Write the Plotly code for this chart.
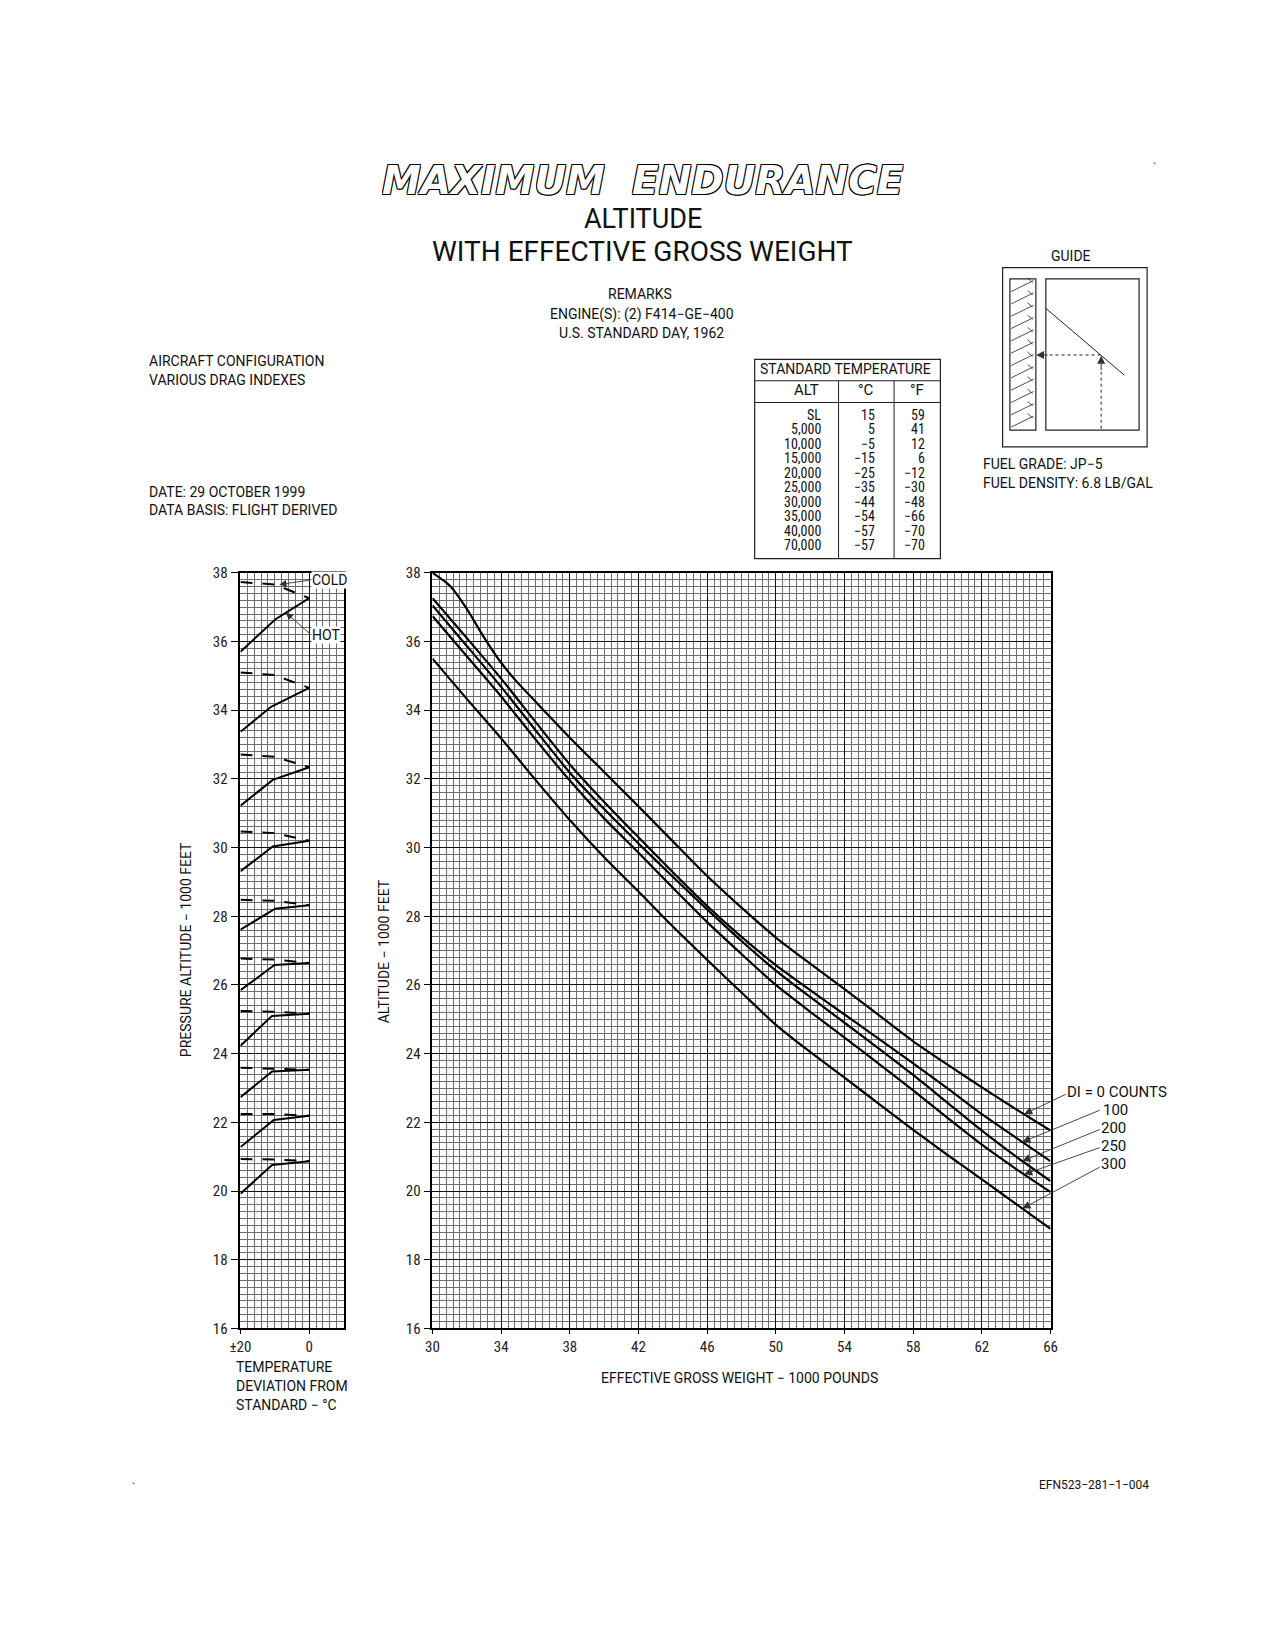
import numpy as np
import plotly.graph_objects as go

W, H = 1275, 1650
FONT = "Roboto, sans-serif"
NARROW = "Liberation Sans Narrow, Roboto Condensed, Roboto, sans-serif"

# ---------------- data: main chart (1000 lb -> 1000 ft) ----------------
weight_di0 = [30, 31, 32, 33, 34, 35, 36, 38, 40, 42, 44, 46, 48, 50, 52, 54, 56, 58, 60, 62, 64, 66]
alt_di0 = [38.0, 37.63, 36.95, 36.12, 35.38, 34.78, 34.25, 33.2, 32.2, 31.2, 30.18, 29.17, 28.25,
           27.38, 26.62, 25.88, 25.12, 24.36, 23.68, 23.02, 22.38, 21.76]
weight = [30, 32, 34, 36, 38, 40, 42, 44, 46, 48, 50, 52, 54, 56, 58, 60, 62, 64, 66]
alt_di100 = [37.26, 36.10, 34.92, 33.66, 32.42, 31.33, 30.3, 29.28, 28.3, 27.4, 26.58, 25.85,
             25.14, 24.43, 23.72, 22.99, 22.24, 21.55, 20.87]
alt_di200 = [37.05, 35.87, 34.68, 33.42, 32.18, 31.12, 30.12, 29.15, 28.2, 27.28, 26.42, 25.65,
             24.9, 24.15, 23.38, 22.57, 21.76, 21.0, 20.29]
alt_di250 = [36.74, 35.57, 34.4, 33.15, 31.95, 30.85, 29.85, 28.83, 27.83, 26.9, 26.0, 25.22,
             24.47, 23.7, 22.93, 22.13, 21.35, 20.64, 19.97]
alt_di300 = [35.50, 34.33, 33.18, 31.97, 30.80, 29.72, 28.72, 27.70, 26.73, 25.78, 24.84, 24.05,
             23.3, 22.54, 21.78, 21.05, 20.34, 19.62, 18.90]
di_labels = ["DI = 0 COUNTS", "100", "200", "250", "300"]

# ---------------- data: temperature correction panel ----------------
dev_start, dev_end = -20, 0
hot_knee_x = [-9.9, -11.1, -10.6, -10.6, -9.9, -10.1, -10.8, -10.8, -10.3, -10.8]
hot_start = [35.70, 33.37, 31.22, 29.31, 27.61, 25.85, 24.23, 22.73, 21.28, 19.92]
hot_knee = [36.64, 34.10, 31.97, 30.03, 28.22, 26.58, 25.10, 23.48, 22.07, 20.76]
hot_end = [37.26, 34.65, 32.34, 30.20, 28.32, 26.64, 25.16, 23.53, 22.19, 20.87]
cold_mid_x = -10
cold_start = [37.73, 35.10, 32.71, 30.47, 28.48, 26.77, 25.24, 23.59, 22.24, 20.93]
cold_mid = [37.66, 35.02, 32.64, 30.42, 28.45, 26.74, 25.22, 23.57, 22.24, 20.92]

# ---------------- data: standard temperature table ----------------
table_alt = ["SL", "5,000", "10,000", "15,000", "20,000", "25,000", "30,000", "35,000", "40,000", "70,000"]
table_c = ["15", "5", "−5", "−15", "−25", "−35", "−44", "−54", "−57", "−57"]
table_f = ["59", "41", "12", "6", "−12", "−30", "−48", "−66", "−70", "−70"]


def fx(p):
    return p / W


def fy(p):
    return 1 - p / H


def T(v):
    # page-placement correction for frame elements
    return 1.0128 * v - 8


fig = go.Figure()

# main curves
series = [(weight_di0, alt_di0), (weight, alt_di100), (weight, alt_di200), (weight, alt_di250), (weight, alt_di300)]
for (wx, ay), name in zip(series, di_labels):
    fig.add_trace(go.Scatter(x=wx, y=ay, mode="lines", name=name, xaxis="x", yaxis="y",
                             line=dict(color="black", width=2.2, shape="spline", smoothing=0.6),
                             hoverinfo="skip"))

# temperature panel lines
for i in range(len(hot_start)):
    fig.add_trace(go.Scatter(x=[dev_start, hot_knee_x[i], dev_end], y=[hot_start[i], hot_knee[i], hot_end[i]],
                             mode="lines", xaxis="x2", yaxis="y2",
                             line=dict(color="black", width=2), hoverinfo="skip"))
    fig.add_trace(go.Scatter(x=[dev_start, cold_mid_x, dev_end], y=[cold_start[i], cold_mid[i], hot_end[i]],
                             mode="lines", xaxis="x2", yaxis="y2",
                             line=dict(color="black", width=2, dash="12px,10px"), hoverinfo="skip"))

ydom = [fy(1334), fy(T(570.7))]
tickfont = dict(family=NARROW, size=15, color="#222")
grid_minor = "#6e6e6e"

common = dict(ticks="outside", tickcolor="black", tickfont=tickfont,
              showgrid=True, gridcolor="#111", gridwidth=1.2,
              showline=True, mirror=True, linecolor="black", linewidth=1.6, zeroline=False)

fig.update_layout(
    width=W, height=H, margin=dict(l=0, r=0, t=0, b=0),
    paper_bgcolor="white", plot_bgcolor="white", showlegend=False,
    xaxis=dict(domain=[fx(T(430)), fx(T(1049))], range=[30, 66], tickvals=list(range(30, 67, 4)), ticklen=4,
               minor=dict(dtick=0.4, showgrid=True, gridcolor=grid_minor, gridwidth=0.8),
               anchor="y", **common),
    yaxis=dict(domain=ydom, range=[16, 38], tickvals=list(range(16, 39, 2)), ticklen=7,
               minor=dict(dtick=0.2, showgrid=True, gridcolor=grid_minor, gridwidth=0.8),
               anchor="x", **common),
    xaxis2=dict(domain=[fx(T(237.7)), fx(T(341))], range=[-20, 10], tickvals=[-20, 0], ticktext=["±20", "0"],
                ticklen=4, minor=dict(dtick=2, showgrid=True, gridcolor=grid_minor, gridwidth=0.8),
                anchor="y2", **common),
    yaxis2=dict(domain=ydom, range=[16, 38], tickvals=list(range(16, 39, 2)), ticklen=8,
                minor=dict(dtick=0.2, showgrid=True, gridcolor=grid_minor, gridwidth=0.8),
                anchor="x2", **common),
)

ann = []


def text(xp, yp, s, size=14, xanchor="center", yanchor="middle", angle=0, color="#111", family=FONT, **kw):
    ann.append(dict(x=fx(xp), y=fy(yp), xref="paper", yref="paper", text=s, showarrow=False,
                    xanchor=xanchor, yanchor=yanchor, textangle=angle,
                    font=dict(family=family, size=size, color=color), **kw))


# titles
ann.append(dict(x=fx(641), y=fy(173), xref="paper", yref="paper", text="MAXIMUM  ENDURANCE",
                showarrow=False, xanchor="center", yanchor="middle", height=40,
                font=dict(family="DejaVu Sans", size=39, color="white", style="italic", weight=700,
                          shadow="1px 1px 0 #000, -1px -1px 0 #000, 1px -1px 0 #000, -1px 1px 0 #000, 0 1px 0 #000, 0 -1px 0 #000")))
text(641, 212, "ALTITUDE", size=27, height=28)
text(641, 245, "WITH EFFECTIVE GROSS WEIGHT", size=28, height=30)
text(638, 288, "REMARKS", size=14)
text(640, 309, "ENGINE(S): (2) F414−GE−400", size=14)
text(640, 328, "U.S. STANDARD DAY, 1962", size=14)
text(138, 356, "AIRCRAFT CONFIGURATION", size=14, xanchor="left")
text(138, 375, "VARIOUS DRAG INDEXES", size=14, xanchor="left")
text(138, 488, "DATE: 29 OCTOBER 1999", size=14, xanchor="left")
text(138, 507, "DATA BASIS: FLIGHT DERIVED", size=14, xanchor="left")
text(1075, 250, "GUIDE", size=14)
text(984, 460, "FUEL GRADE: JP−5", size=14, xanchor="left")
text(984, 479, "FUEL DENSITY: 6.8 LB/GAL", size=14, xanchor="left")
text(1099, 1492, "EFN523−281−1−004", size=12)
text(1160, 160, "`", size=11)
text(124, 1495, "`", size=11)

# axis titles
text(378, 953, "ALTITUDE − 1000 FEET", size=14, angle=-90)
text(177, 951, "PRESSURE ALTITUDE − 1000 FEET", size=14, angle=-90)
text(739, 1384, "EFFECTIVE GROSS WEIGHT − 1000 POUNDS", size=14)
text(226, 1373, "TEMPERATURE", size=14, xanchor="left", height=18)
text(226, 1392, "DEVIATION FROM", size=14, xanchor="left", height=18)
text(226, 1411, "STANDARD − °C", size=14, xanchor="left", height=18)

# table texts
text(846.7, 364, "STANDARD TEMPERATURE", size=14)
text(806.5, 385, "ALT", size=15)
text(867, 385, "°C", size=15)
text(919, 385, "°F", size=15)
for i in range(len(table_alt)):
    yrow = 410 + i * 14.6
    text(822.5, yrow, table_alt[i], size=14, xanchor="right", family=NARROW, height=13, borderpad=0)
    text(877.5, yrow, table_c[i], size=14, xanchor="right", family=NARROW, height=13, borderpad=0)
    text(928.5, yrow, table_f[i], size=14, xanchor="right", family=NARROW, height=13, borderpad=0)

# curve labels (paper position) with leader arrows (main chart data coords)
label_px = [(1069, 1095), (1105.7, 1113), (1104, 1131), (1104, 1150), (1104, 1168)]
leader_start = [(66.98, 22.84), (68.95, 22.37), (68.95, 21.81), (68.95, 21.28), (68.95, 20.72)]
tip_w = [64.46, 64.36, 64.36, 64.46, 64.36]
for (wx, ay), lab, lp, ls, tw in zip(series, di_labels, label_px, leader_start, tip_w):
    text(lp[0], lp[1], lab, size=15, xanchor="left")
    ann.append(dict(x=tw, y=float(np.interp(tw, wx, ay)), xref="x", yref="y", text="",
                    showarrow=True, ax=ls[0], ay=ls[1], axref="x", ayref="y",
                    arrowhead=2, arrowsize=1.8, arrowwidth=0.9, arrowcolor="#333"))

# HOT / COLD labels in temperature panel
ann.append(dict(x=0.6, y=37.79, xref="x2", yref="y2", text="COLD", showarrow=False, xanchor="left",
                bgcolor="white", borderpad=0, font=dict(family=FONT, size=14, color="#111")))
ann.append(dict(x=0.6, y=36.19, xref="x2", yref="y2", text="HOT", showarrow=False, xanchor="left",
                bgcolor="white", borderpad=0, font=dict(family=FONT, size=14, color="#111")))
ann.append(dict(x=-8.7, y=37.66, xref="x2", yref="y2", text="", showarrow=True, ax=0.5, ay=37.79,
                axref="x2", ayref="y2", arrowhead=2, arrowsize=1.6, arrowwidth=0.9, arrowcolor="#333"))
ann.append(dict(x=-6.8, y=36.84, xref="x2", yref="y2", text="", showarrow=True, ax=0.5, ay=36.2,
                axref="x2", ayref="y2", arrowhead=2, arrowsize=1.6, arrowwidth=0.9, arrowcolor="#333"))

# guide arrows (pixel offsets)
ann.append(dict(x=fx(T(1034.5)), y=fy(T(353.3)), xref="paper", yref="paper", text="", showarrow=True,
                ax=13, ay=0, arrowhead=2, arrowsize=1.6, arrowwidth=1, arrowcolor="#333"))
ann.append(dict(x=fx(T(1099.7)), y=fy(T(354)), xref="paper", yref="paper", text="", showarrow=True,
                ax=0, ay=16, arrowhead=2, arrowsize=1.6, arrowwidth=1, arrowcolor="#333"))

fig.update_layout(annotations=ann)

# shapes: table, guide box
shapes = []


def rect(x0, y0, x1, y1, w=1.2, color="#222"):
    shapes.append(dict(type="rect", xref="paper", yref="paper",
                       x0=fx(T(x0)), x1=fx(T(x1)), y0=fy(T(y0)), y1=fy(T(y1)),
                       line=dict(color=color, width=w), fillcolor="rgba(0,0,0,0)"))


def line(x0, y0, x1, y1, w=1.0, color="#222", dash="solid"):
    shapes.append(dict(type="line", xref="paper", yref="paper",
                       x0=fx(T(x0)), x1=fx(T(x1)), y0=fy(T(y0)), y1=fy(T(y1)),
                       line=dict(color=color, width=w, dash=dash)))


rect(752.7, 357.7, 938.7, 556.5)
line(752.7, 379, 938.7, 379)
line(752.7, 400.7, 938.7, 400.7)
line(836.7, 379, 836.7, 556.5)
line(892.3, 379, 892.3, 556.5)

rect(1001, 266, 1145.7, 445)
rect(1008.3, 277.3, 1034.3, 428.3)
rect(1044.3, 277.3, 1137.7, 428.3)
line(1044.3, 306.7, 1122.7, 373.3)
line(1048, 353.3, 1099.7, 353.3, dash="dot")
line(1099.7, 370, 1099.7, 428.3, dash="dot")
for k in range(12):
    yb = 290 + k * 12.3
    line(1009.5, yb, 1032, yb - 11, w=0.8)
    line(1026, yb - 13.5, 1031, yb - 9, w=0.8)

fig.update_layout(shapes=shapes)

fig.write_html("out.html", config={"displayModeBar": False},
               post_script="document.body.style.margin='0px';")
